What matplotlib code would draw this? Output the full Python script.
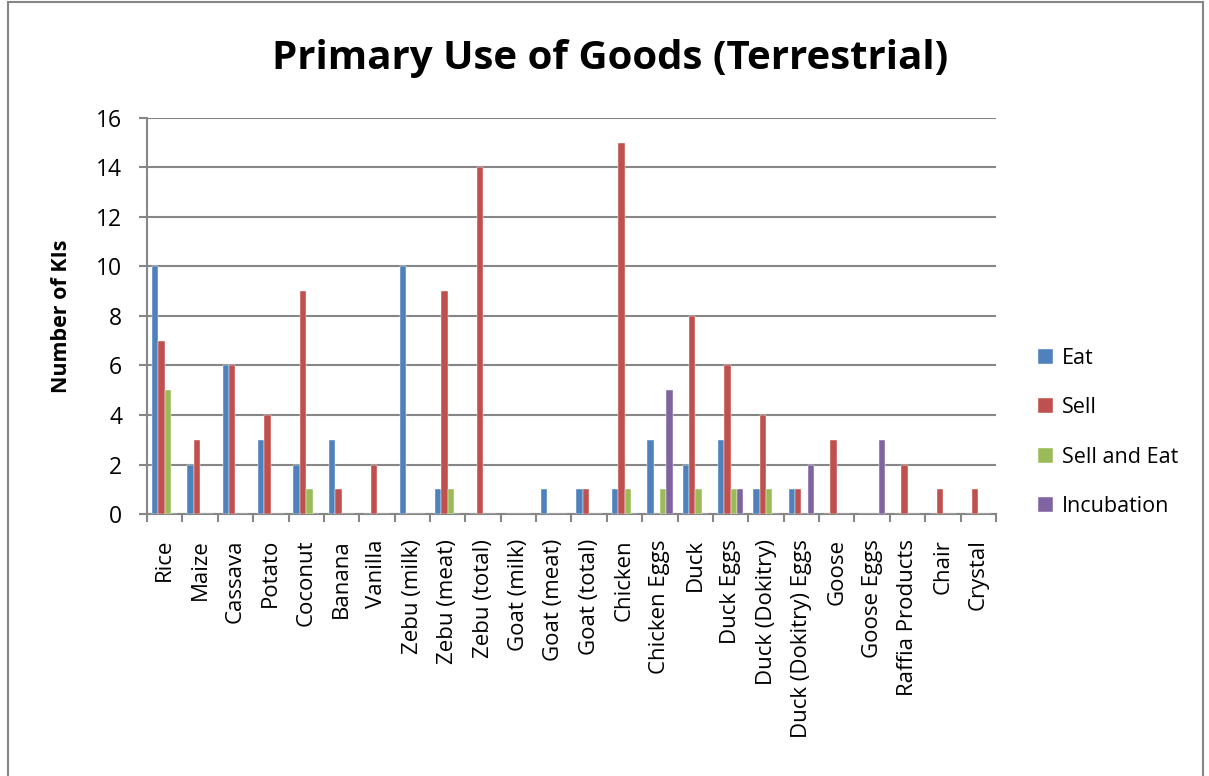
import numpy as np
import matplotlib
matplotlib.use("Agg")
import matplotlib.pyplot as plt
from matplotlib.patches import Rectangle

plt.rcParams['font.family'] = ['Open Sans', 'DejaVu Sans']

# Data
categories = ['Rice', 'Maize', 'Cassava', 'Potato', 'Coconut', 'Banana', 'Vanilla',
              'Zebu (milk)', 'Zebu (meat)', 'Zebu (total)', 'Goat (milk)', 'Goat (meat)',
              'Goat (total)', 'Chicken', 'Chicken Eggs', 'Duck', 'Duck Eggs',
              'Duck (Dokitry)', 'Duck (Dokitry) Eggs', 'Goose', 'Goose Eggs',
              'Raffia Products', 'Chair', 'Crystal']
eat = [10, 2, 6, 3, 2, 3, 0, 10, 1, 0, 0, 1, 1, 1, 3, 2, 3, 1, 1, 0, 0, 0, 0, 0]
sell = [7, 3, 6, 4, 9, 1, 2, 0, 9, 14, 0, 0, 1, 15, 0, 8, 6, 4, 1, 3, 0, 2, 1, 1]
sell_and_eat = [5, 0, 0, 0, 1, 0, 0, 0, 1, 0, 0, 0, 0, 1, 1, 1, 1, 1, 0, 0, 0, 0, 0, 0]
incubation = [0, 0, 0, 0, 0, 0, 0, 0, 0, 0, 0, 0, 0, 0, 5, 0, 1, 0, 2, 0, 3, 0, 0, 0]

series = [('Eat', eat, '#4F81BD'),
          ('Sell', sell, '#C0504D'),
          ('Sell and Eat', sell_and_eat, '#9BBB59'),
          ('Incubation', incubation, '#8064A2')]

fig = plt.figure(figsize=(12.09, 7.76), dpi=100)
ax = fig.add_axes([0.1216, 0.3376, 0.7022, 0.5104])

# outer chart border
fig.patches.append(Rectangle((0.007, -0.02), 0.988, 1.017, transform=fig.transFigure,
                             fill=False, edgecolor='#868686', linewidth=1.5))

x = np.arange(len(categories))
w = 0.18
for i, (name, vals, col) in enumerate(series):
    ax.bar(x + (i - 1.5) * w, vals, width=w, color=col, label=name,
           edgecolor='white', linewidth=0.3, zorder=3)

ax.set_xlim(-0.5, len(categories) - 0.5)
ax.set_ylim(0, 16)
ax.set_yticks(range(0, 17, 2))
ax.yaxis.grid(True, color='#868686', linewidth=1.5, zorder=0)
ax.set_axisbelow(True)

ax.set_xticks(x)
ax.set_xticklabels(categories, rotation=90, fontsize=16)
ax.set_xticks(np.arange(-0.5, len(categories), 1), minor=True)
ax.tick_params(axis='x', which='major', length=0, pad=18)
ax.tick_params(axis='x', which='minor', length=6, color='#868686', width=1.5, direction='out')
ax.tick_params(axis='y', labelsize=16.5, length=6, color='#868686', width=1.5, pad=12)

for s in ['top', 'right']:
    ax.spines[s].set_visible(False)
for s in ['left', 'bottom']:
    ax.spines[s].set_color('#868686')
    ax.spines[s].set_linewidth(1.5)

ax.set_ylabel('Number of KIs', fontsize=15.5, fontweight='bold')
ax.yaxis.set_label_coords(-0.088, 0.5)
fig.text(0.5045, 0.925, 'Primary Use of Goods (Terrestrial)', ha='center', va='center',
         fontsize=29, fontweight='bold')

ax.legend(loc='center left', bbox_to_anchor=(0.8586, 0.4426), bbox_transform=fig.transFigure,
          frameon=False, fontsize=15.5, borderpad=0, borderaxespad=0,
          handlelength=0.7, handleheight=0.7, handletextpad=0.4, labelspacing=1.33)

fig.savefig('out.png', dpi=100)
